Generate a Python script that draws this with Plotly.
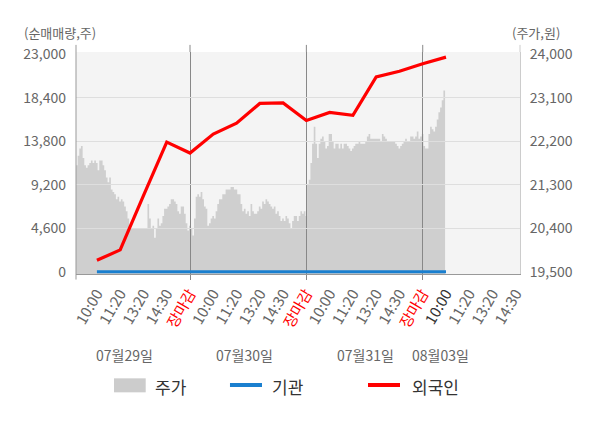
import numpy as np
import plotly.graph_objects as go

# 주가(원), 분 단위 샘플: 07/29 장 시작 ~ 08/03 10시 무렵
price = [
    21700, 21900, 22050, 22100, 21850, 21700, 21650, 21700, 21750, 21800,
    21750, 21800, 21750, 21600, 21800, 21800, 21700, 21600, 21450, 21350,
    21450, 21200, 21150, 21100, 21000, 21050, 20950, 21000, 20950, 20850,
    20750, 20600, 20400, 20400, 20400, 20400, 20400, 20400, 20400, 20400,
    20400, 20400, 20400, 20900, 20600, 20400, 20450, 20200, 20400, 20600,
    20450, 20500, 20650, 20800, 20800, 20850, 20900, 21000, 21000,
    20950, 20900, 20750, 20700, 20850, 20850, 20700, 20500, 20350, 20450,
    20400, 20250, 20600, 21050, 21100, 21050, 21150, 21000, 20850, 20800,
    20450, 20500, 20600, 20650, 20600, 20750, 20900, 21000, 21000, 21100,
    21100, 21200, 21200, 21200, 21250, 21250, 21200, 21200, 21100, 21100,
    20900, 20750, 20800, 20700, 20750, 20650, 20900, 20750, 20700, 20700,
    20750, 20850, 20800, 20950, 20900, 21000, 20950, 20900, 20850,
    20800, 20850, 20700, 20750, 20650, 20550, 20600, 20550, 20650, 20600,
    20500, 20400, 20550, 20650, 20650, 20550, 20650, 20750, 20700, 20750,
    20650, 21300, 21400, 21750, 22150, 22500, 22150, 21850, 22150, 22250,
    22300, 22200, 22050, 22100, 22350, 22350, 22200, 22050, 22150, 22150,
    22050, 22150, 22050, 22150, 22150, 22100, 22050, 22000, 22050, 22100,
    22150, 22150, 22200, 22150, 22150, 22150, 22200, 22300, 22350,
    22250, 22250, 22250, 22250, 22250, 22250, 22200, 22350, 22300, 22250,
    22200, 22200, 22200, 22200, 22200, 22150, 22100, 22050, 22100, 22150,
    22200, 22250, 22200, 22200, 22300, 22300, 22250, 22300, 22400, 22250,
    22300, 22350, 22100, 22050, 22050, 22350, 22500, 22450, 22400, 22500,
    22650, 22800, 22900, 23050, 23250, 23200,
]

# 누적 순매매량(주), 시간대별
flow_slots = list(range(1, 17))
foreign = [1200, 2300, 8050, 13700, 12550, 14550, 15700, 17800, 17850, 16000,
           16850, 16550, 20600, 21200, 22000, 22700]
institution = [0, 0, 0, 0, 0, 0, 0, 0, 0, 0, 0, 0, 0, 0, 0, 0]

day_ticks = ["10:00", "11:20", "13:20", "14:30", "장마감"]
dates = ["07월29일", "07월30일", "07월31일", "08월03일"]
left_ticks = [0, 4600, 9200, 13800, 18400, 23000]
right_ticks = [19500, 20400, 21300, 22200, 23100, 24000]
close_slots = [5, 10, 15]
names = ["주가", "기관", "외국인"]

GRAY = "#666666"
FONT = "Noto Sans CJK KR"

tick_vals = list(range(1, 20))
tick_text = []
for d in range(4):
    for i, t in enumerate(day_ticks):
        if d == 3 and i == 4:
            break
        if t == "장마감":
            tick_text.append("<span style='color:#ff0000'>장마감</span>")
        elif d == 3 and i == 0:
            tick_text.append("<span style='color:#333333'>10:00</span>")
        else:
            tick_text.append(t)

price_x = np.linspace(0.1, 15.96, len(price))
x_range = [0.101, 19.18]
y_left = [-250, 23240]

fig = go.Figure()
fig.add_trace(go.Scatter(
    x=price_x, y=price, xaxis="x", yaxis="y", mode="lines",
    line=dict(width=0, shape="hv"), fill="tozeroy", fillcolor="#cfcfcf",
    name=names[0], showlegend=False, hoverinfo="skip",
))
fig.add_trace(go.Scatter(
    x=flow_slots, y=institution, xaxis="x2", yaxis="y2", mode="lines",
    line=dict(color="#1a7fcf", width=3), name=names[1], showlegend=False,
))
fig.add_trace(go.Scatter(
    x=flow_slots, y=foreign, xaxis="x2", yaxis="y2", mode="lines",
    line=dict(color="#ff0000", width=3.2), name=names[2], showlegend=False,
))
# 왼쪽 눈금 라벨용 축이 그려지도록 빈 트레이스
fig.add_trace(go.Scatter(x=[None], y=[None], xaxis="x2", yaxis="y3",
                         showlegend=False, hoverinfo="skip"))

tick_font = dict(family=FONT, size=14, color=GRAY)

shapes = [
    dict(type="rect", xref="paper", yref="paper", x0=0, x1=1, y0=0, y1=1,
         fillcolor="#f4f4f4", line_width=0, layer="below"),
    dict(type="line", xref="x domain", yref="paper", x0=0, x1=0, y0=-0.025, y1=1.032,
         line=dict(color="#999999", width=1)),
    dict(type="line", xref="x domain", yref="paper", x0=1, x1=1, y0=1, y1=1.032,
         line=dict(color="#cccccc", width=1)),
]
for s in close_slots:
    shapes.append(dict(type="line", xref="x", yref="paper", x0=s, x1=s, y0=1, y1=1.032,
                       line=dict(color="#888888", width=1)))

# 수동 범례
leg_y = -0.5
shapes.append(dict(type="rect", xref="paper", yref="paper", x0=0.0856, x1=0.157,
                   y0=-0.533, y1=-0.470, fillcolor="#cccccc", line_width=0))
shapes.append(dict(type="line", xref="paper", yref="paper", x0=0.3468, x1=0.4189,
                   y0=leg_y, y1=leg_y, line=dict(color="#1a7fcf", width=4)))
shapes.append(dict(type="line", xref="paper", yref="paper", x0=0.6577, x1=0.7297,
                   y0=leg_y, y1=leg_y, line=dict(color="#ff0000", width=4)))

annotations = []
for name, lx in zip(names, [0.1734, 0.4369, 0.7523]):
    annotations.append(dict(text=name, xref="paper", yref="paper", x=lx, y=-0.505,
                            xanchor="left", yanchor="middle", showarrow=False,
                            font=dict(family=FONT, size=17, color="#333333")))
for label, dx in zip(dates, [2.2, 7.36, 12.52, 15.76]):
    annotations.append(dict(text=label, xref="x", yref="paper", x=dx, y=-0.365,
                            xanchor="center", yanchor="middle", showarrow=False,
                            font=dict(family=FONT, size=14, color=GRAY)))
annotations.append(dict(text="(순매매량,주)", xref="paper", yref="paper", x=-0.1216,
                        y=1.0856, xanchor="left", yanchor="middle", showarrow=False,
                        font=dict(family=FONT, size=13, color=GRAY)))
annotations.append(dict(text="(주가,원)", xref="paper", yref="paper", x=1.0946,
                        y=1.0856, xanchor="right", yanchor="middle", showarrow=False,
                        font=dict(family=FONT, size=13, color=GRAY)))

# 페이지 body 기본 여백(8px)을 감안한 크기/여백
fig.update_layout(
    width=592, height=420,
    margin=dict(l=68, r=80, t=44, b=154, pad=0),
    paper_bgcolor="white", plot_bgcolor="rgba(0,0,0,0)",
    font=dict(family=FONT, color=GRAY),
    showlegend=False,
    shapes=shapes, annotations=annotations,
    xaxis=dict(range=x_range, tickmode="array", tickvals=tick_vals, ticktext=tick_text,
               tickangle=-60, tickfont=dict(family=FONT, size=15, color=GRAY),
               showgrid=False, zeroline=False,
               showline=True, linecolor="#999999", ticks="", anchor="y",
               ticklabelstandoff=4),
    yaxis=dict(side="right", range=[19451, 24047], tickmode="array", tickvals=right_ticks,
               ticktext=[f"{v:,}" for v in right_ticks], tickfont=tick_font,
               showgrid=False, zeroline=False, showline=True, linecolor="#cccccc",
               ticks="", anchor="x", ticklabelstandoff=6),
    xaxis2=dict(range=x_range, tickmode="array", tickvals=close_slots, showticklabels=False,
                showgrid=True, gridcolor="#888888", gridwidth=1, zeroline=False,
                ticks="outside", ticklen=5, tickcolor="#888888", showline=False,
                anchor="y2"),
    yaxis2=dict(side="left", range=y_left, tickmode="array",
                tickvals=left_ticks[1:-1], showticklabels=False, showgrid=True,
                gridcolor="#dedede", gridwidth=1, zeroline=False, showline=False,
                ticks="", anchor="x2"),
    yaxis3=dict(side="left", range=y_left, tickmode="array", tickvals=left_ticks,
                ticktext=[f"{v:,}" for v in left_ticks], tickfont=tick_font,
                showgrid=False, zeroline=False, showline=False, ticks="",
                overlaying="y2", anchor="x2", ticklabelstandoff=9),
)

fig.write_html("out.html")
